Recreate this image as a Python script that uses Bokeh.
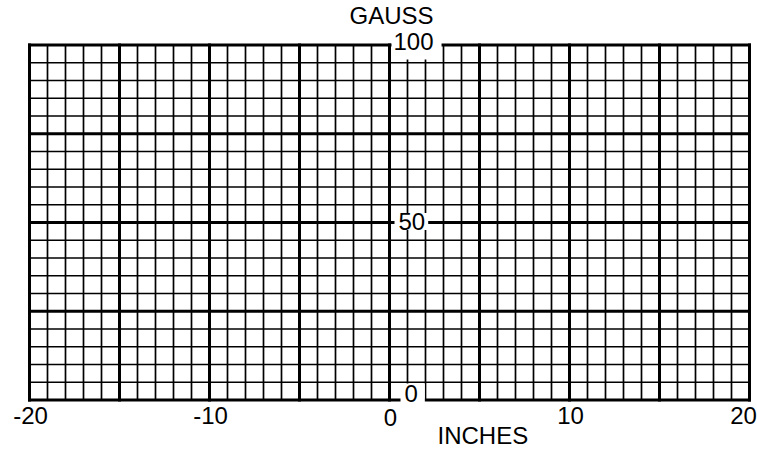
from bokeh.plotting import figure
from bokeh.models import Range1d, Label
from bokeh.embed import file_html
from bokeh.resources import INLINE

# ---- data ----
x_tick_values = [-20, -10, 0, 10, 20]
x_major_lines = [-20, -15, -10, -5, 0, 5, 10, 15, 20]
x_minor_lines = list(range(-20, 21))
y_major_lines = [0, 25, 50, 75, 100]
y_minor_lines = list(range(0, 101, 5))
y_label_values = [100, 50, 0]
x_title = "INCHES"
y_title = "GAUSS"

FONT = "Liberation Sans"
W, H = 757, 450
# pixel placement of the data window inside the canvas
PX_LEFT, PX_RIGHT, PX_TOP, PX_BOTTOM = 29.0, 749.0, 44.5, 399.5

x_lo, x_hi = x_minor_lines[0], x_minor_lines[-1]
y_lo, y_hi = y_minor_lines[0], y_minor_lines[-1]
sx = (PX_RIGHT - PX_LEFT) / (x_hi - x_lo)
sy = (PX_BOTTOM - PX_TOP) / (y_hi - y_lo)

p = figure(width=W, height=H, output_backend="svg", toolbar_location=None,
           x_range=Range1d(x_lo - PX_LEFT / sx, x_hi + (W - PX_RIGHT) / sx),
           y_range=Range1d(y_lo - (H - PX_BOTTOM) / sy, y_hi + PX_TOP / sy),
           x_axis_location=None, y_axis_location=None,
           min_border=0, background_fill_color="white", border_fill_color="white")
p.xgrid.visible = False
p.ygrid.visible = False
p.outline_line_color = None

# minor grid
p.segment(x0=x_minor_lines, y0=[y_lo] * len(x_minor_lines),
          x1=x_minor_lines, y1=[y_hi] * len(x_minor_lines),
          line_color="black", line_width=1.7)
p.segment(x0=[x_lo] * len(y_minor_lines), y0=y_minor_lines,
          x1=[x_hi] * len(y_minor_lines), y1=y_minor_lines,
          line_color="black", line_width=1.7)
# major grid (incl. border)
p.segment(x0=x_major_lines, y0=[y_lo] * len(x_major_lines),
          x1=x_major_lines, y1=[y_hi] * len(x_major_lines),
          line_color="black", line_width=3, line_cap="square")
p.segment(x0=[x_lo] * len(y_major_lines), y0=y_major_lines,
          x1=[x_hi] * len(y_major_lines), y1=y_major_lines,
          line_color="black", line_width=3, line_cap="square")

txt = dict(text_font=FONT, text_font_size="24px", text_color="black")

# x tick labels
x_edge_shift = {-20: 1, 20: -6}
for v in x_tick_values:
    p.add_layout(Label(x=v, y=y_lo, text=str(v), text_align="center", text_baseline="middle",
                       x_offset=x_edge_shift.get(v, 1), y_offset=-15 if v != 0 else -17, **txt))

# y labels on the zero line, boxed in white
label_style = {
    100: dict(x_offset=2, y_offset=0, padding=dict(left=2, right=8, top=2, bottom=10)),
    50: dict(x_offset=5, y_offset=1, padding=dict(left=4, right=3, top=0, bottom=0)),
    0: dict(x_offset=11, y_offset=7, padding=dict(left=4, right=7, top=1, bottom=1)),
}
for v in y_label_values:
    p.add_layout(Label(x=0, y=v, text=str(v), text_align="left", text_baseline="middle",
                       background_fill_color="white", **label_style[v], **txt))

p.add_layout(Label(x=0, y=y_hi, text=y_title, text_align="center", text_baseline="middle",
                   x_offset=2, y_offset=30, **txt))
p.add_layout(Label(x=0, y=y_lo, text=x_title, text_align="left", text_baseline="middle",
                   x_offset=48, y_offset=-35, **txt))

open("out.html", "w").write(file_html(p, INLINE))
